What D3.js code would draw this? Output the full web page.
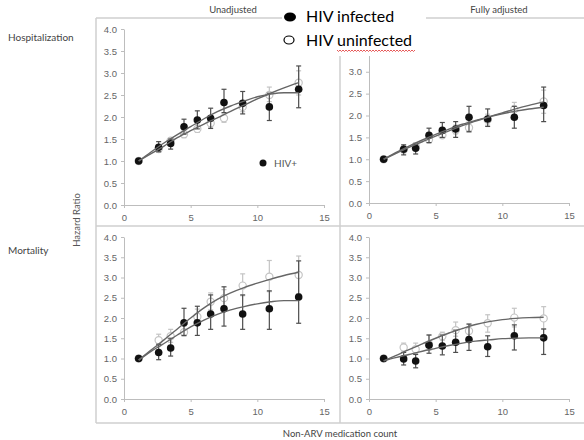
<!DOCTYPE html>
<html>
<head>
<meta charset="utf-8">
<script src="https://cdn.jsdelivr.net/npm/d3@7"></script>
<style>
    body { margin: 0; background: #fff; }
    svg { display: block; font-family: Lato, "Open Sans", sans-serif; }
</style>
</head>
<body>
<svg id="hr-svg"></svg>
<script>
// medication count bins (x of every point)
const medCount = [1.1, 2.6, 3.5, 4.5, 5.5, 6.5, 7.5, 8.9, 10.9, 13.1];
const xTicks = [0, 5, 10, 15];
const yTicks = [0, 0.5, 1, 1.5, 2, 2.5, 3, 3.5, 4];

// hospitalization, unadjusted
const hospUnadjPos = [1.0, 1.31, 1.40, 1.78, 1.93, 1.97, 2.33, 2.31, 2.23, 2.63];
const hospUnadjPosLo = [1.0, 1.21, 1.27, 1.61, 1.73, 1.74, 2.10, 2.07, 1.92, 2.21];
const hospUnadjPosHi = [1.0, 1.44, 1.50, 1.95, 2.14, 2.20, 2.63, 2.58, 2.54, 3.16];
const hospUnadjNeg = [1.0, 1.27, 1.46, 1.61, 1.73, 1.86, 1.97, 2.23, 2.50, 2.78];
const hospUnadjNegLo = [1.0, 1.20, 1.38, 1.53, 1.65, 1.77, 1.88, 2.12, 2.35, 2.50];
const hospUnadjNegHi = [1.0, 1.35, 1.53, 1.70, 1.82, 1.95, 2.07, 2.35, 2.68, 3.05];

// hospitalization, fully adjusted
const hospAdjPos = [1.0, 1.23, 1.25, 1.55, 1.66, 1.69, 1.96, 1.92, 1.96, 2.23];
const hospAdjPosLo = [1.0, 1.10, 1.12, 1.38, 1.50, 1.50, 1.63, 1.75, 1.71, 1.86];
const hospAdjPosHi = [1.0, 1.33, 1.34, 1.71, 1.84, 1.86, 2.21, 2.15, 2.21, 2.65];
const hospAdjNeg = [1.0, 1.22, 1.30, 1.45, 1.55, 1.66, 1.72, 1.90, 2.14, 2.32];
const hospAdjNegLo = [1.0, 1.15, 1.22, 1.38, 1.48, 1.58, 1.62, 1.78, 1.98, 2.05];
const hospAdjNegHi = [1.0, 1.30, 1.38, 1.53, 1.63, 1.78, 1.85, 2.03, 2.30, 2.58];

// mortality, unadjusted
const mortUnadjPos = [1.0, 1.15, 1.26, 1.88, 1.88, 2.10, 2.23, 2.10, 2.23, 2.52];
const mortUnadjPosLo = [1.0, 0.97, 1.06, 1.57, 1.57, 1.72, 1.80, 1.72, 1.72, 1.87];
const mortUnadjPosHi = [1.0, 1.35, 1.50, 2.24, 2.29, 2.57, 2.77, 2.57, 2.67, 3.41];
const mortUnadjNeg = [1.0, 1.45, 1.55, 1.65, 2.03, 2.40, 2.49, 2.80, 3.02, 3.06];
const mortUnadjNegLo = [1.0, 1.30, 1.40, 1.55, 1.85, 2.20, 2.30, 2.55, 2.65, 2.60];
const mortUnadjNegHi = [1.0, 1.60, 1.72, 1.80, 2.22, 2.62, 2.70, 3.09, 3.42, 3.53];

// mortality, fully adjusted
const mortAdjPos = [1.0, 0.99, 0.94, 1.33, 1.31, 1.40, 1.47, 1.29, 1.56, 1.51];
const mortAdjPosLo = [1.0, 0.84, 0.77, 1.13, 1.09, 1.15, 1.20, 1.05, 1.21, 1.10];
const mortAdjPosHi = [1.0, 1.15, 1.10, 1.58, 1.58, 1.70, 1.85, 1.56, 1.83, 1.73];
const mortAdjNeg = [1.0, 1.27, 1.23, 1.35, 1.55, 1.70, 1.68, 1.87, 2.01, 1.99];
const mortAdjNegLo = [1.0, 1.15, 1.12, 1.20, 1.45, 1.55, 1.48, 1.65, 1.78, 1.72];
const mortAdjNegHi = [1.0, 1.38, 1.38, 1.58, 1.65, 1.90, 1.85, 2.08, 2.24, 2.28];

const fitX = [1.1, 2, 3, 4, 5, 6, 7, 8, 9, 10, 11, 12, 13.1];
const hospUnadjPosFit = [1.0, 1.20, 1.41, 1.60, 1.78, 1.96, 2.12, 2.25, 2.36, 2.46, 2.52, 2.55, 2.55];
const hospUnadjNegFit = [1.0, 1.16, 1.34, 1.53, 1.69, 1.84, 1.98, 2.13, 2.27, 2.41, 2.54, 2.66, 2.78];
const hospAdjPosFit = [1.0, 1.15, 1.30, 1.44, 1.57, 1.69, 1.80, 1.89, 1.97, 2.04, 2.10, 2.15, 2.19];
const hospAdjNegFit = [1.0, 1.13, 1.27, 1.40, 1.53, 1.65, 1.77, 1.87, 1.97, 2.06, 2.15, 2.23, 2.31];
const mortUnadjPosFit = [0.96, 1.17, 1.37, 1.58, 1.78, 1.95, 2.09, 2.20, 2.28, 2.35, 2.40, 2.43, 2.43];
const mortUnadjNegFit = [0.96, 1.20, 1.46, 1.73, 2.00, 2.25, 2.46, 2.62, 2.75, 2.86, 2.96, 3.05, 3.13];
const mortAdjPosFit = [0.94, 1.02, 1.10, 1.18, 1.25, 1.32, 1.38, 1.43, 1.46, 1.49, 1.50, 1.51, 1.51];
const mortAdjNegFit = [0.94, 1.07, 1.22, 1.36, 1.50, 1.63, 1.74, 1.84, 1.91, 1.96, 1.99, 2.01, 2.02];

class HazardPanel {
    constructor(svg, box, s) {
        this.svg = svg;
        this.box = box;
        this.s = s;
        this.initVis();
    }

    initVis() {
        let vis = this;
        vis.x = d3.scaleLinear().domain([0, 15]).range([vis.box.left, vis.box.right]);
        vis.y = d3.scaleLinear().domain([0, 4]).range([vis.box.bottom, vis.box.top]);
        vis.g = vis.svg.append("g").attr("class", "panel");

        // labels hidden under the pasted legend are left out
        let shown = yTicks.filter(t => vis.box.labelMax === undefined || t <= vis.box.labelMax);
        let yAxis = vis.g.append("g")
            .attr("class", "axis")
            .attr("transform", `translate(${vis.box.left},0)`)
            .call(d3.axisLeft(vis.y).tickValues(yTicks)
                .tickFormat(t => shown.includes(t) ? d3.format(".1f")(t) : "")
                .tickSize(3).tickSizeOuter(0));
        let xAxis = vis.g.append("g")
            .attr("class", "axis")
            .attr("transform", `translate(0,${vis.box.bottom})`)
            .call(d3.axisBottom(vis.x).tickValues(xTicks).tickSize(3).tickSizeOuter(0).tickPadding(6));
        vis.g.selectAll(".axis text").filter(function() { return this.textContent === ""; }).remove();
        vis.g.selectAll(".axis path, .axis line").attr("stroke", "#bdbdbd");
        vis.g.selectAll(".axis text").attr("fill", "#666").style("font-size", "9.5px");
        yAxis.selectAll("text").attr("x", -7);

        vis.updateVis();
    }

    updateVis() {
        let vis = this;
        let rows = medCount.map((m, i) => ({
            m: m,
            pos: vis.s.pos[i], posLo: vis.s.posLo[i], posHi: vis.s.posHi[i],
            neg: vis.s.neg[i], negLo: vis.s.negLo[i], negHi: vis.s.negHi[i]
        }));
        let cap = 2.5;

        // uninfected: light grey bars and open circles
        let negBars = vis.g.append("g").attr("stroke", "#c4c4c4").attr("stroke-width", 1.2);
        rows.forEach(d => {
            negBars.append("line").attr("x1", vis.x(d.m)).attr("x2", vis.x(d.m))
                .attr("y1", vis.y(d.negLo)).attr("y2", vis.y(d.negHi));
            [d.negLo, d.negHi].forEach(v => negBars.append("line")
                .attr("x1", vis.x(d.m) - cap).attr("x2", vis.x(d.m) + cap)
                .attr("y1", vis.y(v)).attr("y2", vis.y(v)));
        });
        vis.g.append("g").selectAll("circle").data(rows).join("circle")
            .attr("cx", d => vis.x(d.m)).attr("cy", d => vis.y(d.neg)).attr("r", 3.6)
            .attr("fill", "#fff").attr("stroke", "#c4c4c4").attr("stroke-width", 1.2);

        // infected: dark bars and filled dots
        let posBars = vis.g.append("g").attr("stroke", "#4d4d4d").attr("stroke-width", 1.2);
        rows.forEach(d => {
            posBars.append("line").attr("x1", vis.x(d.m)).attr("x2", vis.x(d.m))
                .attr("y1", vis.y(d.posLo)).attr("y2", vis.y(d.posHi));
            [d.posLo, d.posHi].forEach(v => posBars.append("line")
                .attr("x1", vis.x(d.m) - cap).attr("x2", vis.x(d.m) + cap)
                .attr("y1", vis.y(v)).attr("y2", vis.y(v)));
        });
        vis.g.append("g").selectAll("circle").data(rows).join("circle")
            .attr("cx", d => vis.x(d.m)).attr("cy", d => vis.y(d.pos)).attr("r", 3.8)
            .attr("fill", "#111");

        // fitted lines on top
        let line = d3.line()
            .x(d => vis.x(d[0]))
            .y(d => vis.y(d[1]))
            .curve(d3.curveMonotoneX);
        [vis.s.posFit, vis.s.negFit].forEach(f => {
            vis.g.append("path")
                .attr("d", line(fitX.map((m, i) => [m, f[i]])))
                .attr("fill", "none")
                .attr("stroke", "#666")
                .attr("stroke-width", 1.4);
        });
    }
}

const svg = d3.select("#hr-svg").attr("width", 584).attr("height", 440);
const frame = "#cfcfcf";

// outer frame and dividers
svg.append("line").attr("x1", 96).attr("x2", 584).attr("y1", 18).attr("y2", 18).attr("stroke", frame).attr("stroke-width", 1.5);
svg.append("line").attr("x1", 96).attr("x2", 96).attr("y1", 18).attr("y2", 423).attr("stroke", frame).attr("stroke-width", 1.5);
svg.append("line").attr("x1", 96).attr("x2", 584).attr("y1", 423).attr("y2", 423).attr("stroke", frame).attr("stroke-width", 1.5);
svg.append("line").attr("x1", 96).attr("x2", 584).attr("y1", 226).attr("y2", 226).attr("stroke", frame).attr("stroke-width", 1.5);
svg.append("line").attr("x1", 340).attr("x2", 340).attr("y1", 18).attr("y2", 423).attr("stroke", frame).attr("stroke-width", 1.5);

new HazardPanel(svg, {left: 124, right: 324, top: 29, bottom: 205}, {
    pos: hospUnadjPos, posLo: hospUnadjPosLo, posHi: hospUnadjPosHi,
    neg: hospUnadjNeg, negLo: hospUnadjNegLo, negHi: hospUnadjNegHi,
    posFit: hospUnadjPosFit, negFit: hospUnadjNegFit
});
new HazardPanel(svg, {left: 369, right: 569, top: 28, bottom: 203, labelMax: 3}, {
    pos: hospAdjPos, posLo: hospAdjPosLo, posHi: hospAdjPosHi,
    neg: hospAdjNeg, negLo: hospAdjNegLo, negHi: hospAdjNegHi,
    posFit: hospAdjPosFit, negFit: hospAdjNegFit
});
new HazardPanel(svg, {left: 124, right: 324, top: 237, bottom: 399}, {
    pos: mortUnadjPos, posLo: mortUnadjPosLo, posHi: mortUnadjPosHi,
    neg: mortUnadjNeg, negLo: mortUnadjNegLo, negHi: mortUnadjNegHi,
    posFit: mortUnadjPosFit, negFit: mortUnadjNegFit
});
new HazardPanel(svg, {left: 369, right: 569, top: 237, bottom: 399}, {
    pos: mortAdjPos, posLo: mortAdjPosLo, posHi: mortAdjPosHi,
    neg: mortAdjNeg, negLo: mortAdjNegLo, negHi: mortAdjNegHi,
    posFit: mortAdjPosFit, negFit: mortAdjNegFit
});

// text labels
const label = (x, y, t, size, anchor, fill) => svg.append("text")
    .attr("x", x).attr("y", y).attr("text-anchor", anchor || "start")
    .attr("fill", fill || "#444").style("font-size", size + "px").text(t);

label(233, 13, "Unadjusted", 9.5, "middle");
label(499, 13, "Fully adjusted", 9.5, "middle");
label(8, 41, "Hospitalization", 10);
label(8, 254, "Mortality", 10);
label(340, 437, "Non-ARV medication count", 9.5, "middle");
svg.append("text")
    .attr("transform", "translate(80,220) rotate(-90)")
    .attr("text-anchor", "middle").attr("fill", "#555")
    .style("font-size", "9.5px").text("Hazard Ratio");

// small in-panel key
svg.append("circle").attr("cx", 263).attr("cy", 163).attr("r", 3.5).attr("fill", "#111");
label(274, 167, "HIV+", 10, "start", "#555");

// pasted legend box covering the frame
svg.append("rect").attr("x", 282).attr("y", 0).attr("width", 144).attr("height", 56).attr("fill", "#fff");
svg.append("ellipse").attr("cx", 290).attr("cy", 17).attr("rx", 6).attr("ry", 4.5).attr("fill", "#000");
svg.append("ellipse").attr("cx", 289).attr("cy", 40).attr("rx", 5).attr("ry", 4).attr("fill", "#fff").attr("stroke", "#000").attr("stroke-width", 1.2);
label(306, 22, "HIV infected", 16, "start", "#000");
label(306, 46, "HIV uninfected", 16, "start", "#000");

// spell-check squiggle under "uninfected"
let wave = d3.path();
wave.moveTo(337, 50);
for (let px = 337; px < 415; px += 3) {
    wave.lineTo(px + 1.5, 51.5);
    wave.lineTo(px + 3, 50);
}
svg.append("path").attr("d", wave.toString()).attr("fill", "none").attr("stroke", "#e03030").attr("stroke-width", 0.8);
</script>
</body>
</html>
